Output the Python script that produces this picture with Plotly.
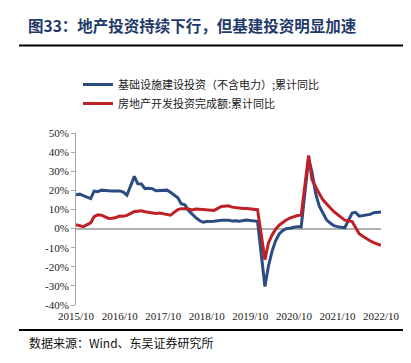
import plotly.graph_objects as go

dates = (
    ["2015-10", "2015-11", "2015-12"]
    + [f"{y}-{m:02d}" for y in range(2016, 2022) for m in range(2, 13)]
    + [f"2022-{m:02d}" for m in range(2, 11)]
)

infra = [
    17.7, 18.0, 17.2,
    15.7, 19.6, 19.3, 20.1, 19.8, 19.8, 19.7, 19.6, 19.7, 19.1, 17.4,
    27.3, 23.5, 23.3, 20.9, 21.1, 20.9, 19.8, 19.8, 20.1, 20.1, 19.0,
    16.1, 13.0, 12.4, 9.4, 7.3, 5.7, 4.2, 3.3, 3.7, 3.7, 3.8,
    4.3, 4.4, 4.4, 4.0, 4.1, 3.8, 4.2, 4.5, 4.2, 4.0, 3.8,
    -30.3, -19.7, -11.8, -6.3, -2.7, -1.0, 0.1, 0.2, 0.7, 1.0, 0.9,
    36.6, 29.7, 18.4, 11.8, 7.8, 4.6, 2.9, 1.5, 1.0, 0.5, 0.4,
    8.1, 8.5, 6.5, 6.7, 7.1, 7.4, 8.3, 8.6, 8.7,
]

realestate = [
    2.0, 1.3, 1.0,
    3.0, 6.2, 7.2, 7.0, 6.1, 5.3, 5.4, 5.8, 6.6, 6.5, 6.9,
    8.9, 9.1, 9.3, 8.8, 8.5, 7.9, 7.9, 8.1, 7.8, 7.5, 7.0,
    9.9, 10.4, 10.3, 10.2, 9.7, 10.2, 10.1, 9.9, 9.7, 9.7, 9.5,
    11.6, 11.8, 11.9, 11.2, 10.9, 10.6, 10.5, 10.5, 10.3, 10.2, 9.9,
    -16.3, -7.7, -3.3, -0.3, 1.9, 3.4, 4.6, 5.6, 6.3, 6.8, 7.0,
    38.3, 25.6, 21.6, 18.3, 15.0, 12.7, 10.9, 8.8, 7.2, 6.0, 4.4,
    3.7, 0.7, -2.7, -4.0, -5.4, -6.4, -7.4, -8.0, -8.8,
]

x_tickvals = [f"{y}-10-01" for y in range(2015, 2023)]
x_ticktext = [f"{y}/10" for y in range(2015, 2023)]
y_tickvals = list(range(-40, 60, 10))
y_ticktext = [f"{v}%" for v in y_tickvals]

name_infra = "基础设施建设投资（不含电力）;累计同比"
name_re = "房地产开发投资完成额:累计同比"

serif = "Liberation Serif, Times New Roman, serif"
cjk = "Noto Sans CJK SC, sans-serif"

W, H = 411, 363
L, R, T, B = 68, 38, 125, 66
PW, PH = W - L - R, H - T - B


def px(x):
    return (x - L) / PW


def py(y):
    return (H - B - y) / PH


fig = go.Figure()
fig.add_trace(go.Scatter(x=dates, y=infra, mode="lines", name=name_infra,
                         line=dict(color="#2B4C83", width=3)))
fig.add_trace(go.Scatter(x=dates, y=realestate, mode="lines", name=name_re,
                         line=dict(color="#BE2025", width=3)))

fig.update_layout(
    width=W, height=H,
    margin=dict(l=L, r=R, t=T, b=B, autoexpand=False),
    paper_bgcolor="white", plot_bgcolor="white",
    showlegend=True,
    legend=dict(x=px(70), y=py(62), xanchor="left", yanchor="top",
                font=dict(family=cjk, size=11, color="#222"),
                bgcolor="rgba(0,0,0,0)", tracegroupgap=0,
                itemwidth=30),
    xaxis=dict(type="date", range=["2015-10-01", "2022-10-01"],
               tickvals=x_tickvals, ticktext=x_ticktext,
               showgrid=False, showline=False, zeroline=False, ticks="",
               ticklabelstandoff=3,
               tickfont=dict(family=serif, size=11, color="#222")),
    yaxis=dict(range=[-40, 50], tickvals=y_tickvals, ticktext=y_ticktext,
               showgrid=False, showline=True, linecolor="#A6A6A6", linewidth=1,
               ticks="outside", ticklen=4, tickcolor="#A6A6A6",
               zeroline=True, zerolinecolor="#B0B0B0", zerolinewidth=2,
               tickfont=dict(family=serif, size=11, color="#222")),
)

fig.add_annotation(text="<b>图33：地产投资持续下行，但基建投资明显加速</b>",
                   xref="paper", yref="paper", x=px(18), y=py(17),
                   xanchor="left", yanchor="middle", showarrow=False,
                   font=dict(family=cjk, size=15.5, color="#1F3A68"))
fig.add_annotation(text="数据来源：Wind、东吴证券研究所",
                   xref="paper", yref="paper", x=px(19), y=py(334),
                   xanchor="left", yanchor="middle", showarrow=False,
                   font=dict(family=cjk, size=12, color="#111"))
fig.add_shape(type="line", xref="paper", yref="paper",
              x0=px(11), x1=px(403), y0=py(37.5), y1=py(37.5),
              line=dict(color="black", width=2))
fig.add_shape(type="line", xref="paper", yref="paper",
              x0=px(11), x1=px(403), y0=py(322), y1=py(322),
              line=dict(color="black", width=2))

fig.write_html("out.html")
